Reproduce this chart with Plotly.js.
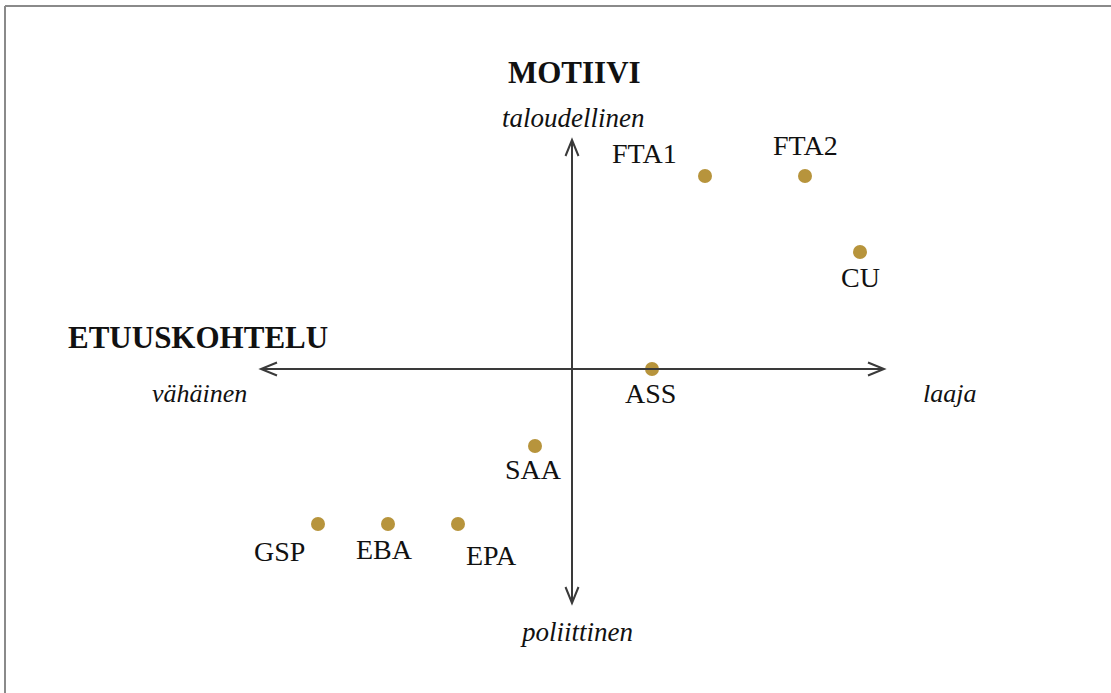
<!DOCTYPE html>
<html>
<head>
<meta charset="utf-8">
<script src="https://cdn.plot.ly/plotly-3.0.1.min.js"></script>
<style>html,body{margin:0;padding:0;background:#fff}#chart{width:1111px;height:693px}</style>
</head>
<body>
<div id="chart"></div>
<script>
// Categories (agreement types) and their positions on the two dimensions
var categories = ['FTA1', 'FTA2', 'CU', 'ASS', 'SAA', 'GSP', 'EBA', 'EPA'];
// etuuskohtelu: vähäinen (-) ... laaja (+)
var etuuskohtelu = [1.33, 2.33, 2.88, 0.80, -0.37, -2.54, -1.84, -1.14];
// motiivi: poliittinen (-) ... taloudellinen (+)
var motiivi = [1.93, 1.93, 1.17, 0.00, -0.77, -1.55, -1.55, -1.55];
// axis extents
var axisX = [-3.11, 3.12];
var axisY = [-2.34, 2.29];

var dotColor = '#B7943C';
var lineColor = '#3a3a3a';
var serif = 'Liberation Serif, Times New Roman, serif';

var trace = {
  x: etuuskohtelu, y: motiivi, type: 'scatter', mode: 'markers',
  marker: {size: 14, color: dotColor},
  hoverinfo: 'skip', showlegend: false, cliponaxis: false
};

// label offsets (px) relative to each dot
var labelShift = {
  FTA1: [-61, 23], FTA2: [0, 31], CU: [0, -25], ASS: [-2, -24],
  SAA: [-2, -23], GSP: [-39, -27], EBA: [-4, -25], EPA: [33, -31]
};

var annotations = categories.map(function(c, i) {
  return {x: etuuskohtelu[i], y: motiivi[i], xref: 'x', yref: 'y', text: c,
    showarrow: false, xshift: labelShift[c][0], yshift: labelShift[c][1],
    font: {family: serif, size: 28, color: '#111'}};
});

function txt(t, x, y, size, bold, italic) {
  var s = t;
  if (bold) s = '<b>' + s + '</b>';
  if (italic) s = '<i>' + s + '</i>';
  return {x: x, y: y, xref: 'x', yref: 'y', text: s, showarrow: false,
    font: {family: serif, size: size, color: '#111'}};
}
annotations.push(txt('MOTIIVI', 0.02, 2.97, 31, true, false));
annotations.push(txt('taloudellinen', 0.01, 2.51, 27, false, true));
annotations.push(txt('ETUUSKOHTELU', -3.74, 0.32, 31, true, false));
annotations.push(txt('vähäinen', -3.73, -0.24, 26, false, true));
annotations.push(txt('laaja', 3.77, -0.24, 26, false, true));
annotations.push(txt('poliittinen', 0.04, -2.63, 27, false, true));

var ah = 0.16, aw = 0.065;
var lineStyle = {color: lineColor, width: 2};
var shapes = [
  // horizontal axis
  {type: 'line', xref: 'x', yref: 'y', x0: axisX[0], x1: axisX[1], y0: 0, y1: 0, line: lineStyle},
  // vertical axis
  {type: 'line', xref: 'x', yref: 'y', x0: 0, x1: 0, y0: axisY[0], y1: axisY[1], line: lineStyle},
  // arrowheads (open chevrons)
  {type: 'path', xref: 'x', yref: 'y', line: lineStyle,
   path: 'M ' + (axisX[1] - ah) + ',' + aw + ' L ' + axisX[1] + ',0 L ' + (axisX[1] - ah) + ',' + (-aw)},
  {type: 'path', xref: 'x', yref: 'y', line: lineStyle,
   path: 'M ' + (axisX[0] + ah) + ',' + aw + ' L ' + axisX[0] + ',0 L ' + (axisX[0] + ah) + ',' + (-aw)},
  {type: 'path', xref: 'x', yref: 'y', line: lineStyle,
   path: 'M ' + (-aw) + ',' + (axisY[1] - ah) + ' L 0,' + axisY[1] + ' L ' + aw + ',' + (axisY[1] - ah)},
  {type: 'path', xref: 'x', yref: 'y', line: lineStyle,
   path: 'M ' + (-aw) + ',' + (axisY[0] + ah) + ' L 0,' + axisY[0] + ' L ' + aw + ',' + (axisY[0] + ah)},
  // frame (top and left)
  {type: 'line', xref: 'paper', yref: 'paper', x0: 5/1111, x1: 1, y0: 1 - 6/693, y1: 1 - 6/693, line: {color: '#8a8a8a', width: 2}},
  {type: 'line', xref: 'paper', yref: 'paper', x0: 5/1111, x1: 5/1111, y0: 1 - 6/693, y1: 0, line: {color: '#8a8a8a', width: 2}}
];

var layout = {
  width: 1111, height: 693,
  margin: {l: 0, r: 0, t: 0, b: 0, pad: 0},
  paper_bgcolor: '#fff', plot_bgcolor: '#fff',
  xaxis: {range: [-5.72, 5.39], visible: false, fixedrange: true},
  yaxis: {range: [-3.24, 3.69], visible: false, fixedrange: true},
  showlegend: false,
  annotations: annotations,
  shapes: shapes
};

Plotly.newPlot('chart', [trace], layout, {displayModeBar: false, staticPlot: true});
</script>
</body>
</html>
